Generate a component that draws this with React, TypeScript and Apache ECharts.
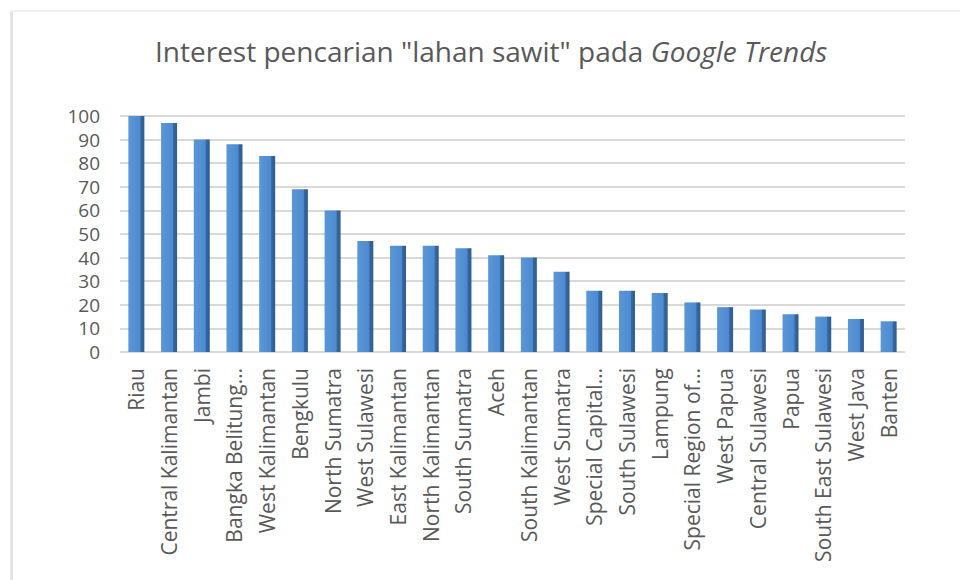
import React, { useEffect, useRef } from "react";
import * as echarts from "echarts";

const categories: string[] = [
  "Riau",
  "Central Kalimantan",
  "Jambi",
  "Bangka Belitung…",
  "West Kalimantan",
  "Bengkulu",
  "North Sumatra",
  "West Sulawesi",
  "East Kalimantan",
  "North Kalimantan",
  "South Sumatra",
  "Aceh",
  "South Kalimantan",
  "West Sumatra",
  "Special Capital…",
  "South Sulawesi",
  "Lampung",
  "Special Region of…",
  "West Papua",
  "Central Sulawesi",
  "Papua",
  "South East Sulawesi",
  "West Java",
  "Banten",
];

const interestValues: number[] = [
  100, 97, 90, 88, 83, 69, 60, 47, 45, 45, 44, 41, 40, 34, 26, 26, 25, 21, 19, 18, 16, 15, 14, 13,
];

const yTicks = { min: 0, max: 100, interval: 10 };

const titleMain = 'Interest pencarian "lahan sawit" pada ';
const titleItalic = "Google Trends";

export default function App() {
  const ref = useRef<HTMLDivElement>(null);

  useEffect(() => {
    document.body.style.margin = "0";
    if (!ref.current) return;
    const chart = echarts.init(ref.current, null, { renderer: "svg" });
    const font = "'Open Sans', 'Noto Sans', sans-serif";
    chart.setOption({
      animation: false,
      backgroundColor: "#ffffff",
      textStyle: { fontFamily: font },
      title: {
        text: "{a|" + titleMain + "}{b|" + titleItalic + "}",
        left: 150,
        top: 32,
        textStyle: {
          fontWeight: "normal",
          rich: {
            a: { fontSize: 28, color: "#595959", fontFamily: font, fontWeight: "normal" },
            b: { fontSize: 28, color: "#595959", fontFamily: font, fontStyle: "italic", fontWeight: "normal" },
          },
        },
      },
      graphic: [
        { type: "rect", shape: { x: 10, y: 10, width: 3, height: 570 }, style: { fill: "#e4e4e4" }, silent: true },
        { type: "rect", shape: { x: 10, y: 10, width: 950, height: 2 }, style: { fill: "#f0f0f0" }, silent: true },
      ],
      grid: { left: 120, right: 55, top: 116, bottom: 228 },
      xAxis: {
        type: "category",
        data: categories,
        boundaryGap: true,
        axisLine: { show: false },
        axisTick: { show: false },
        axisLabel: {
          rotate: 90,
          interval: 0,
          margin: 16,
          fontSize: 21,
          color: "#595959",
          fontFamily: font,
        },
      },
      yAxis: {
        type: "value",
        min: yTicks.min,
        max: yTicks.max,
        interval: yTicks.interval,
        axisLine: { show: false },
        axisTick: { show: false },
        axisLabel: { fontSize: 19, color: "#595959", margin: 20, fontFamily: font },
        splitLine: { lineStyle: { color: "#d9d9d9", width: 2 } },
      },
      series: [
        {
          type: "bar",
          data: interestValues,
          barWidth: 16,
          itemStyle: {
            color: new echarts.graphic.LinearGradient(0, 0, 1, 0, [
              { offset: 0, color: "#5a97d6" },
              { offset: 0.72, color: "#4e8ad0" },
              { offset: 0.78, color: "#35679e" },
              { offset: 1, color: "#2f5c8e" },
            ]),
          },
        },
      ],
    });
    return () => chart.dispose();
  }, []);

  return (
    <div
      ref={ref}
      style={{ position: "fixed", left: 0, top: 0, width: 960, height: 580 }}
    />
  );
}
